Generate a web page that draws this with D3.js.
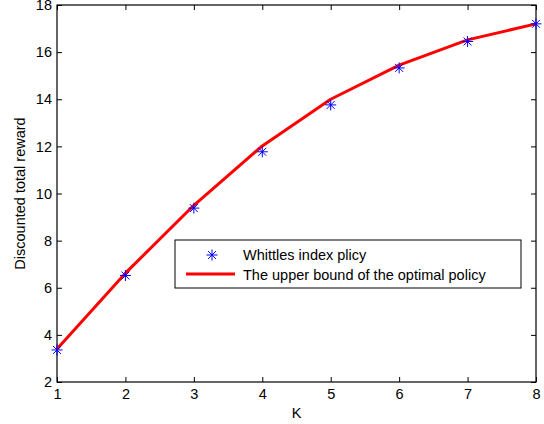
<!DOCTYPE html>
<html lang="en">
<head>
<meta charset="utf-8">
<title>Discounted total reward vs K</title>
<script src="https://unpkg.com/d3@7/dist/d3.min.js"></script>
<style>
  body { margin: 0; background: #fff; }
  text { font-family: "Liberation Sans", Arial, sans-serif; }
</style>
</head>
<body>
<script>
  // values
  var kValues = [1, 2, 3, 4, 5, 6, 7, 8];
  var whittle = [3.36, 6.52, 9.38, 11.77, 13.76, 15.33, 16.45, 17.2];
  var upperBound = [3.4, 6.62, 9.5, 12.02, 14.0, 15.45, 16.52, 17.2];
  var xTicks = [1, 2, 3, 4, 5, 6, 7, 8];
  var yTicks = [2, 4, 6, 8, 10, 12, 14, 16, 18];

  var W = 544, H = 424;
  var margin = { left: 57, right: 8, top: 5, bottom: 42 };
  var w = W - margin.left - margin.right;
  var h = H - margin.top - margin.bottom;
  var fs = "14.5px";

  var svg = d3.select("body").append("svg")
              .attr("width", W).attr("height", H);
  var g = svg.append("g")
             .attr("transform", "translate(" + margin.left + "," + margin.top + ")");

  var x = d3.scaleLinear().domain([1, 8]).range([0, w]);
  var y = d3.scaleLinear().domain([2, 18]).range([h, 0]);

  // axes with inward ticks, on all four sides like a matlab box
  function styleAxis(sel, hideText) {
    sel.select(".domain").remove();
    sel.selectAll("line").attr("stroke", "#000");
    sel.selectAll("text").attr("fill", "#000").style("font-size", fs);
    if (hideText) sel.selectAll("text").remove();
  }

  g.append("g").attr("transform", "translate(0," + h + ")")
   .call(d3.axisBottom(x).tickValues(xTicks).tickSize(-5).tickPadding(7).tickFormat(d3.format("d")))
   .call(function(s) { styleAxis(s, false); });
  g.append("g")
   .call(d3.axisTop(x).tickValues(xTicks).tickSize(-5))
   .call(function(s) { styleAxis(s, true); });
  g.append("g")
   .call(d3.axisLeft(y).tickValues(yTicks).tickSize(-5).tickPadding(5).tickFormat(d3.format("d")))
   .call(function(s) { styleAxis(s, false); });
  g.append("g").attr("transform", "translate(" + w + ",0)")
   .call(d3.axisRight(y).tickValues(yTicks).tickSize(-5))
   .call(function(s) { styleAxis(s, true); });

  g.append("rect")
   .attr("width", w).attr("height", h)
   .attr("fill", "none").attr("stroke", "#000").attr("stroke-width", 1.2);

  // upper bound line
  var line = d3.line()
               .x(function(d, i) { return x(kValues[i]); })
               .y(function(d) { return y(d); });
  g.append("path").datum(upperBound)
   .attr("d", line)
   .attr("fill", "none").attr("stroke", "#ff0000").attr("stroke-width", 3)
   .attr("stroke-linejoin", "round");

  // asterisk markers
  function star(sel, r) {
    sel.append("path")
       .attr("d", "M" + (-r) + ",0H" + r + "M0," + (-r) + "V" + r +
                  "M" + (-r * 0.72) + "," + (-r * 0.72) + "L" + (r * 0.72) + "," + (r * 0.72) +
                  "M" + (-r * 0.72) + "," + (r * 0.72) + "L" + (r * 0.72) + "," + (-r * 0.72))
       .attr("stroke", "#0000ff").attr("stroke-width", 1).attr("fill", "none");
  }
  g.selectAll(".pt").data(whittle).enter().append("g")
   .attr("class", "pt")
   .attr("transform", function(d, i) { return "translate(" + x(kValues[i]) + "," + y(d) + ")"; })
   .each(function() { star(d3.select(this), 5.5); });

  // axis labels
  svg.append("text")
     .attr("x", margin.left + w / 2).attr("y", 418)
     .attr("text-anchor", "middle").style("font-size", fs).text("K");
  svg.append("text")
     .attr("transform", "translate(25," + (margin.top + h / 2) + ") rotate(-90)")
     .attr("text-anchor", "middle").style("font-size", fs).text("Discounted total reward");

  // legend
  var lg = svg.append("g").attr("transform", "translate(175,240)");
  lg.append("rect").attr("width", 346).attr("height", 48)
    .attr("fill", "#fff").attr("stroke", "#000").attr("stroke-width", 1);
  var s1 = lg.append("g").attr("transform", "translate(37,15)");
  star(s1, 5.5);
  lg.append("text").attr("x", 68).attr("y", 20).style("font-size", fs).text("Whittles index plicy");
  lg.append("line").attr("x1", 11).attr("x2", 60).attr("y1", 34).attr("y2", 34)
    .attr("stroke", "#ff0000").attr("stroke-width", 3);
  lg.append("text").attr("x", 68).attr("y", 40).style("font-size", fs).text("The upper bound of the optimal policy");
</script>
</body>
</html>
